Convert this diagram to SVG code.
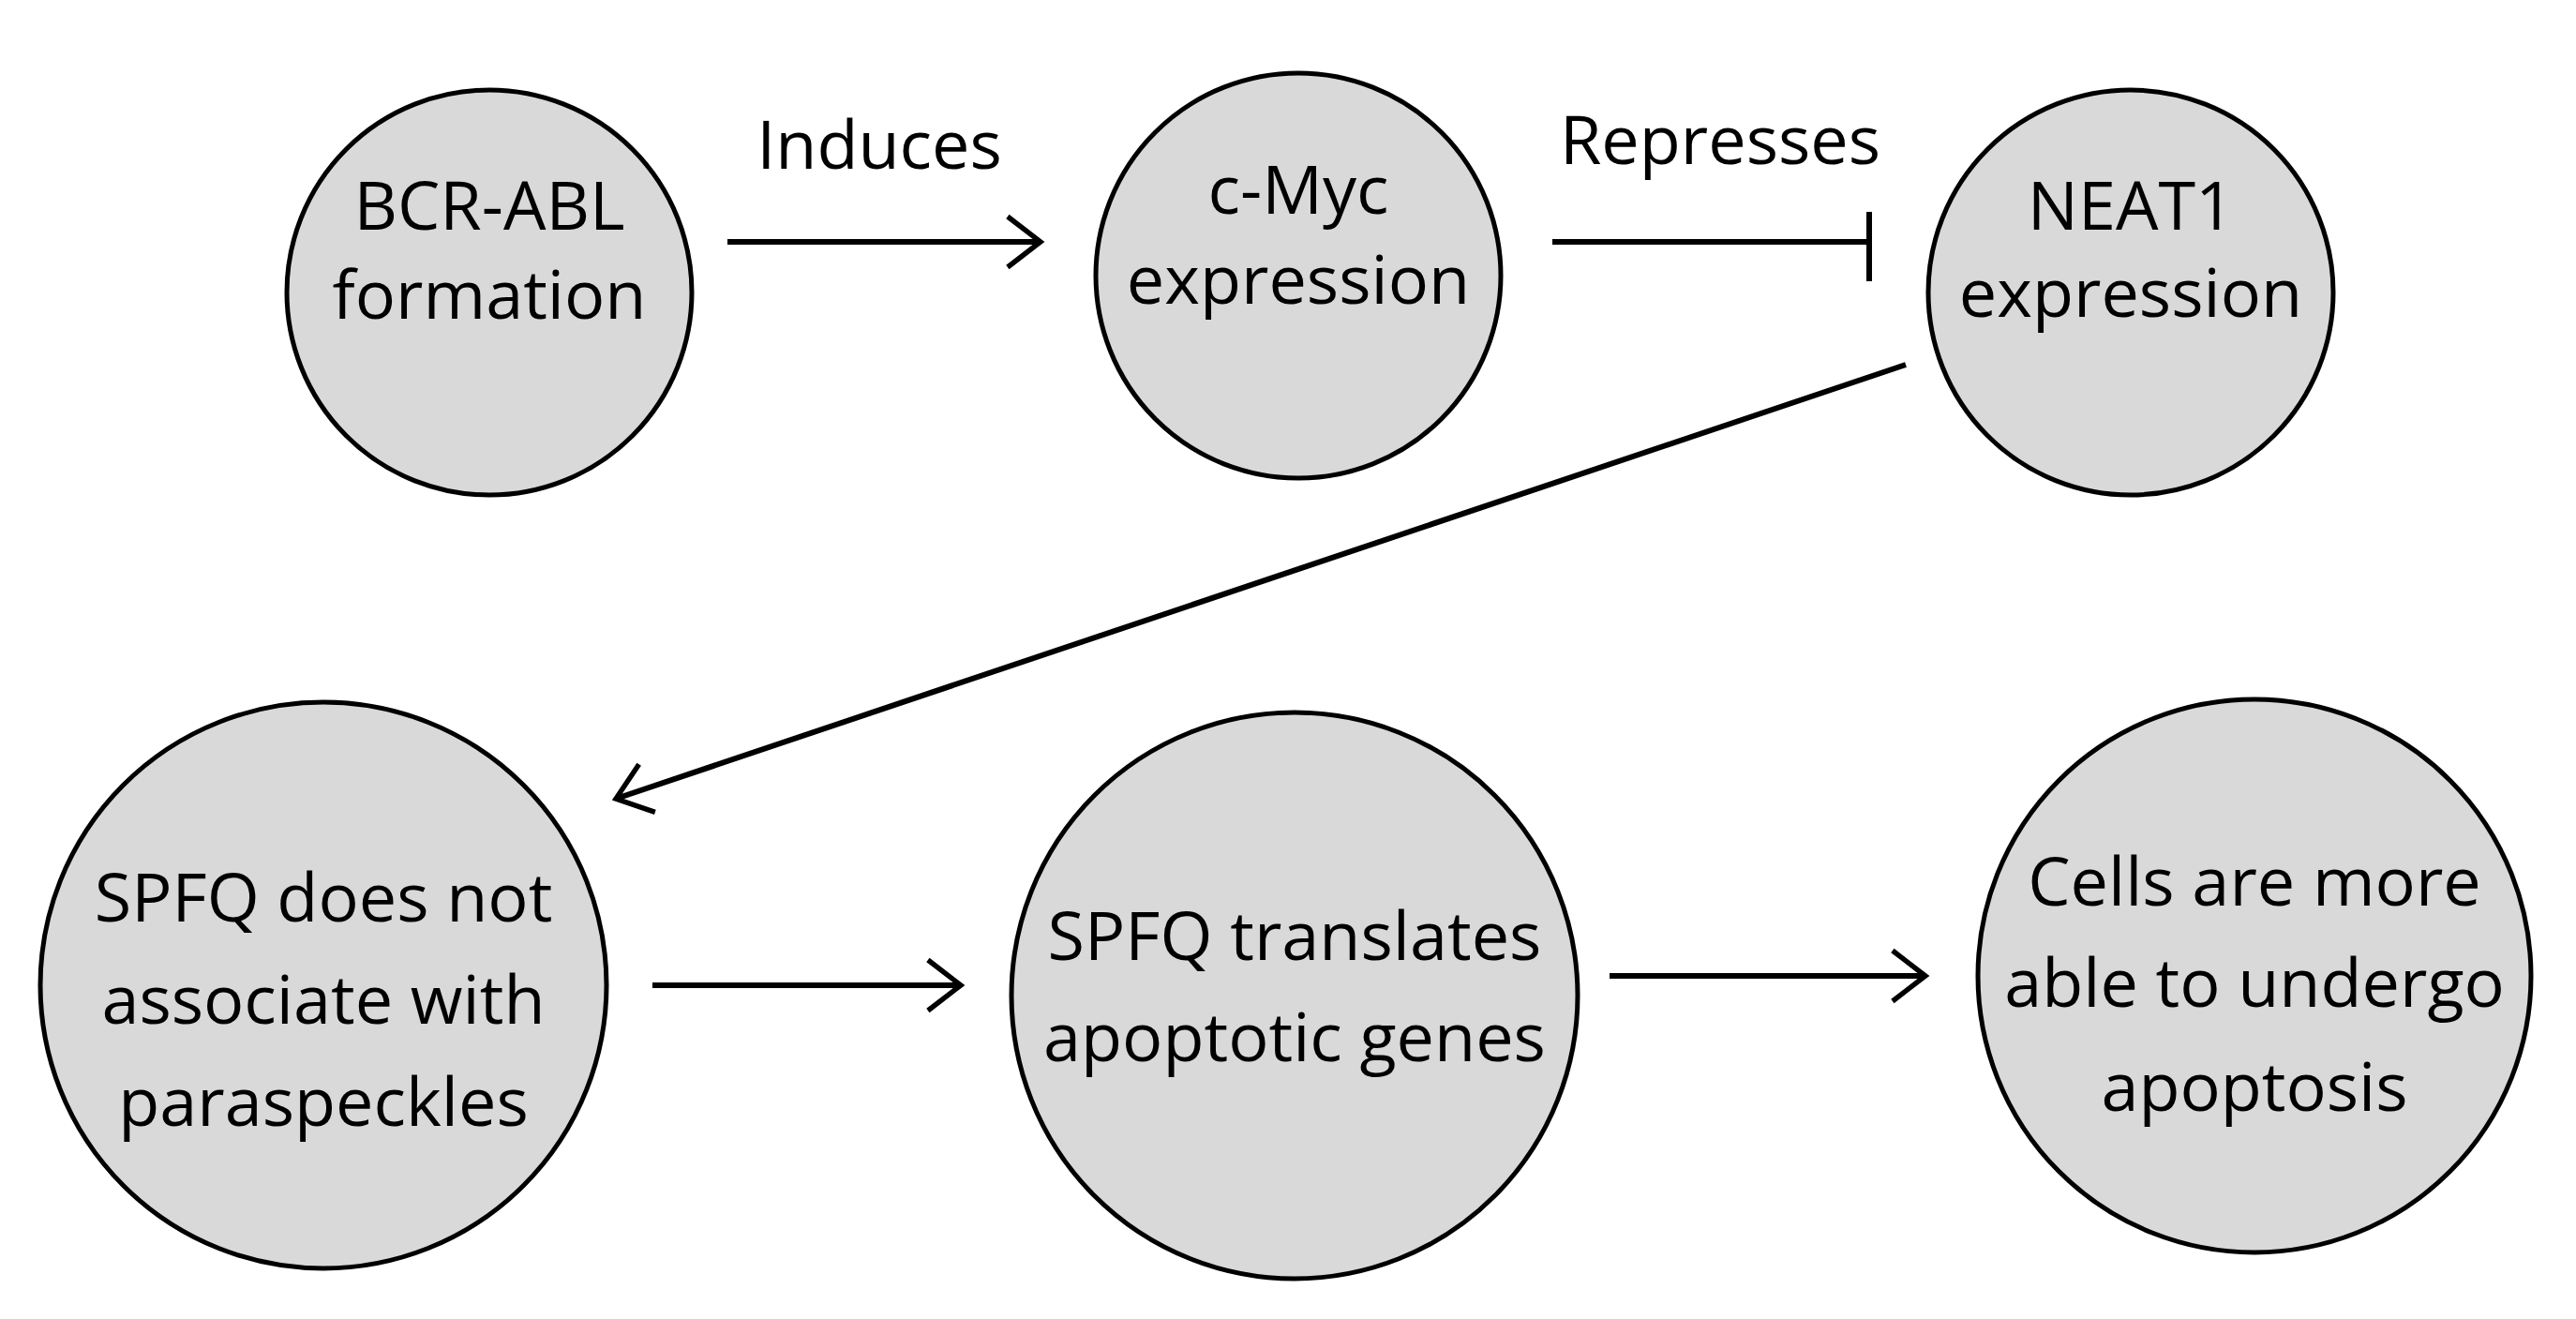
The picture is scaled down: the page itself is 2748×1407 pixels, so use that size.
<svg xmlns="http://www.w3.org/2000/svg" width="2748" height="1407" viewBox="0 0 2748 1407">
<style>
.n{fill:#d9d9d9;stroke:#000;stroke-width:5}
.t{font-family:"Open Sans","Liberation Sans",sans-serif;font-size:72px;fill:#000;text-anchor:middle}
.c{stroke:#000;stroke-width:6;fill:none}
</style>
<defs><marker id="a" viewBox="0 0 10 10" refX="9" refY="5" markerWidth="9" markerHeight="9" markerUnits="userSpaceOnUse" orient="auto" overflow="visible"><path d="M-30,-25 L9,5 L-30,35" fill="none" stroke="#000" stroke-width="6"/></marker></defs>
<rect width="2748" height="1407" fill="#fff"/>
<g id="n1"><circle class="n" cx="522" cy="312" r="216"/><text class="t" x="522" y="245">BCR-ABL</text><text class="t" x="522" y="340">formation</text></g>
<g id="n2"><circle class="n" cx="1385" cy="294" r="216"/><text class="t" x="1385" y="228">c-Myc</text><text class="t" x="1385" y="324">expression</text></g>
<g id="n3"><circle class="n" cx="2273" cy="312" r="216"/><text class="t" x="2273" y="245">NEAT1</text><text class="t" x="2273" y="338">expression</text></g>
<g id="n4"><circle class="n" cx="345" cy="1051" r="302"/><text class="t" x="345" y="983">SPFQ does not</text><text class="t" x="345" y="1092">associate with</text><text class="t" x="345" y="1201">paraspeckles</text></g>
<g id="n5"><circle class="n" cx="1381" cy="1062" r="302"/><text class="t" x="1381" y="1024">SPFQ translates</text><text class="t" x="1381" y="1132">apoptotic genes</text></g>
<g id="n6"><circle class="n" cx="2405" cy="1041" r="295"/><text class="t" x="2405" y="966">Cells are more</text><text class="t" x="2405" y="1074">able to undergo</text><text class="t" x="2405" y="1185">apoptosis</text></g>
<g id="connectors">
<path class="c" d="M776,258 L1110,258" marker-end="url(#a)"/>
<text class="t" x="938" y="180">Induces</text>
<path class="c" d="M1656,258 L1994,258 M1994,226 L1994,300"/>
<text class="t" x="1835" y="175">Represses</text>
<path class="c" d="M2033,389 L657,852" marker-end="url(#a)"/>
<path class="c" d="M696,1051 L1025,1051" marker-end="url(#a)"/>
<path class="c" d="M1717,1041 L2054,1041" marker-end="url(#a)"/>
</g>
</svg>
